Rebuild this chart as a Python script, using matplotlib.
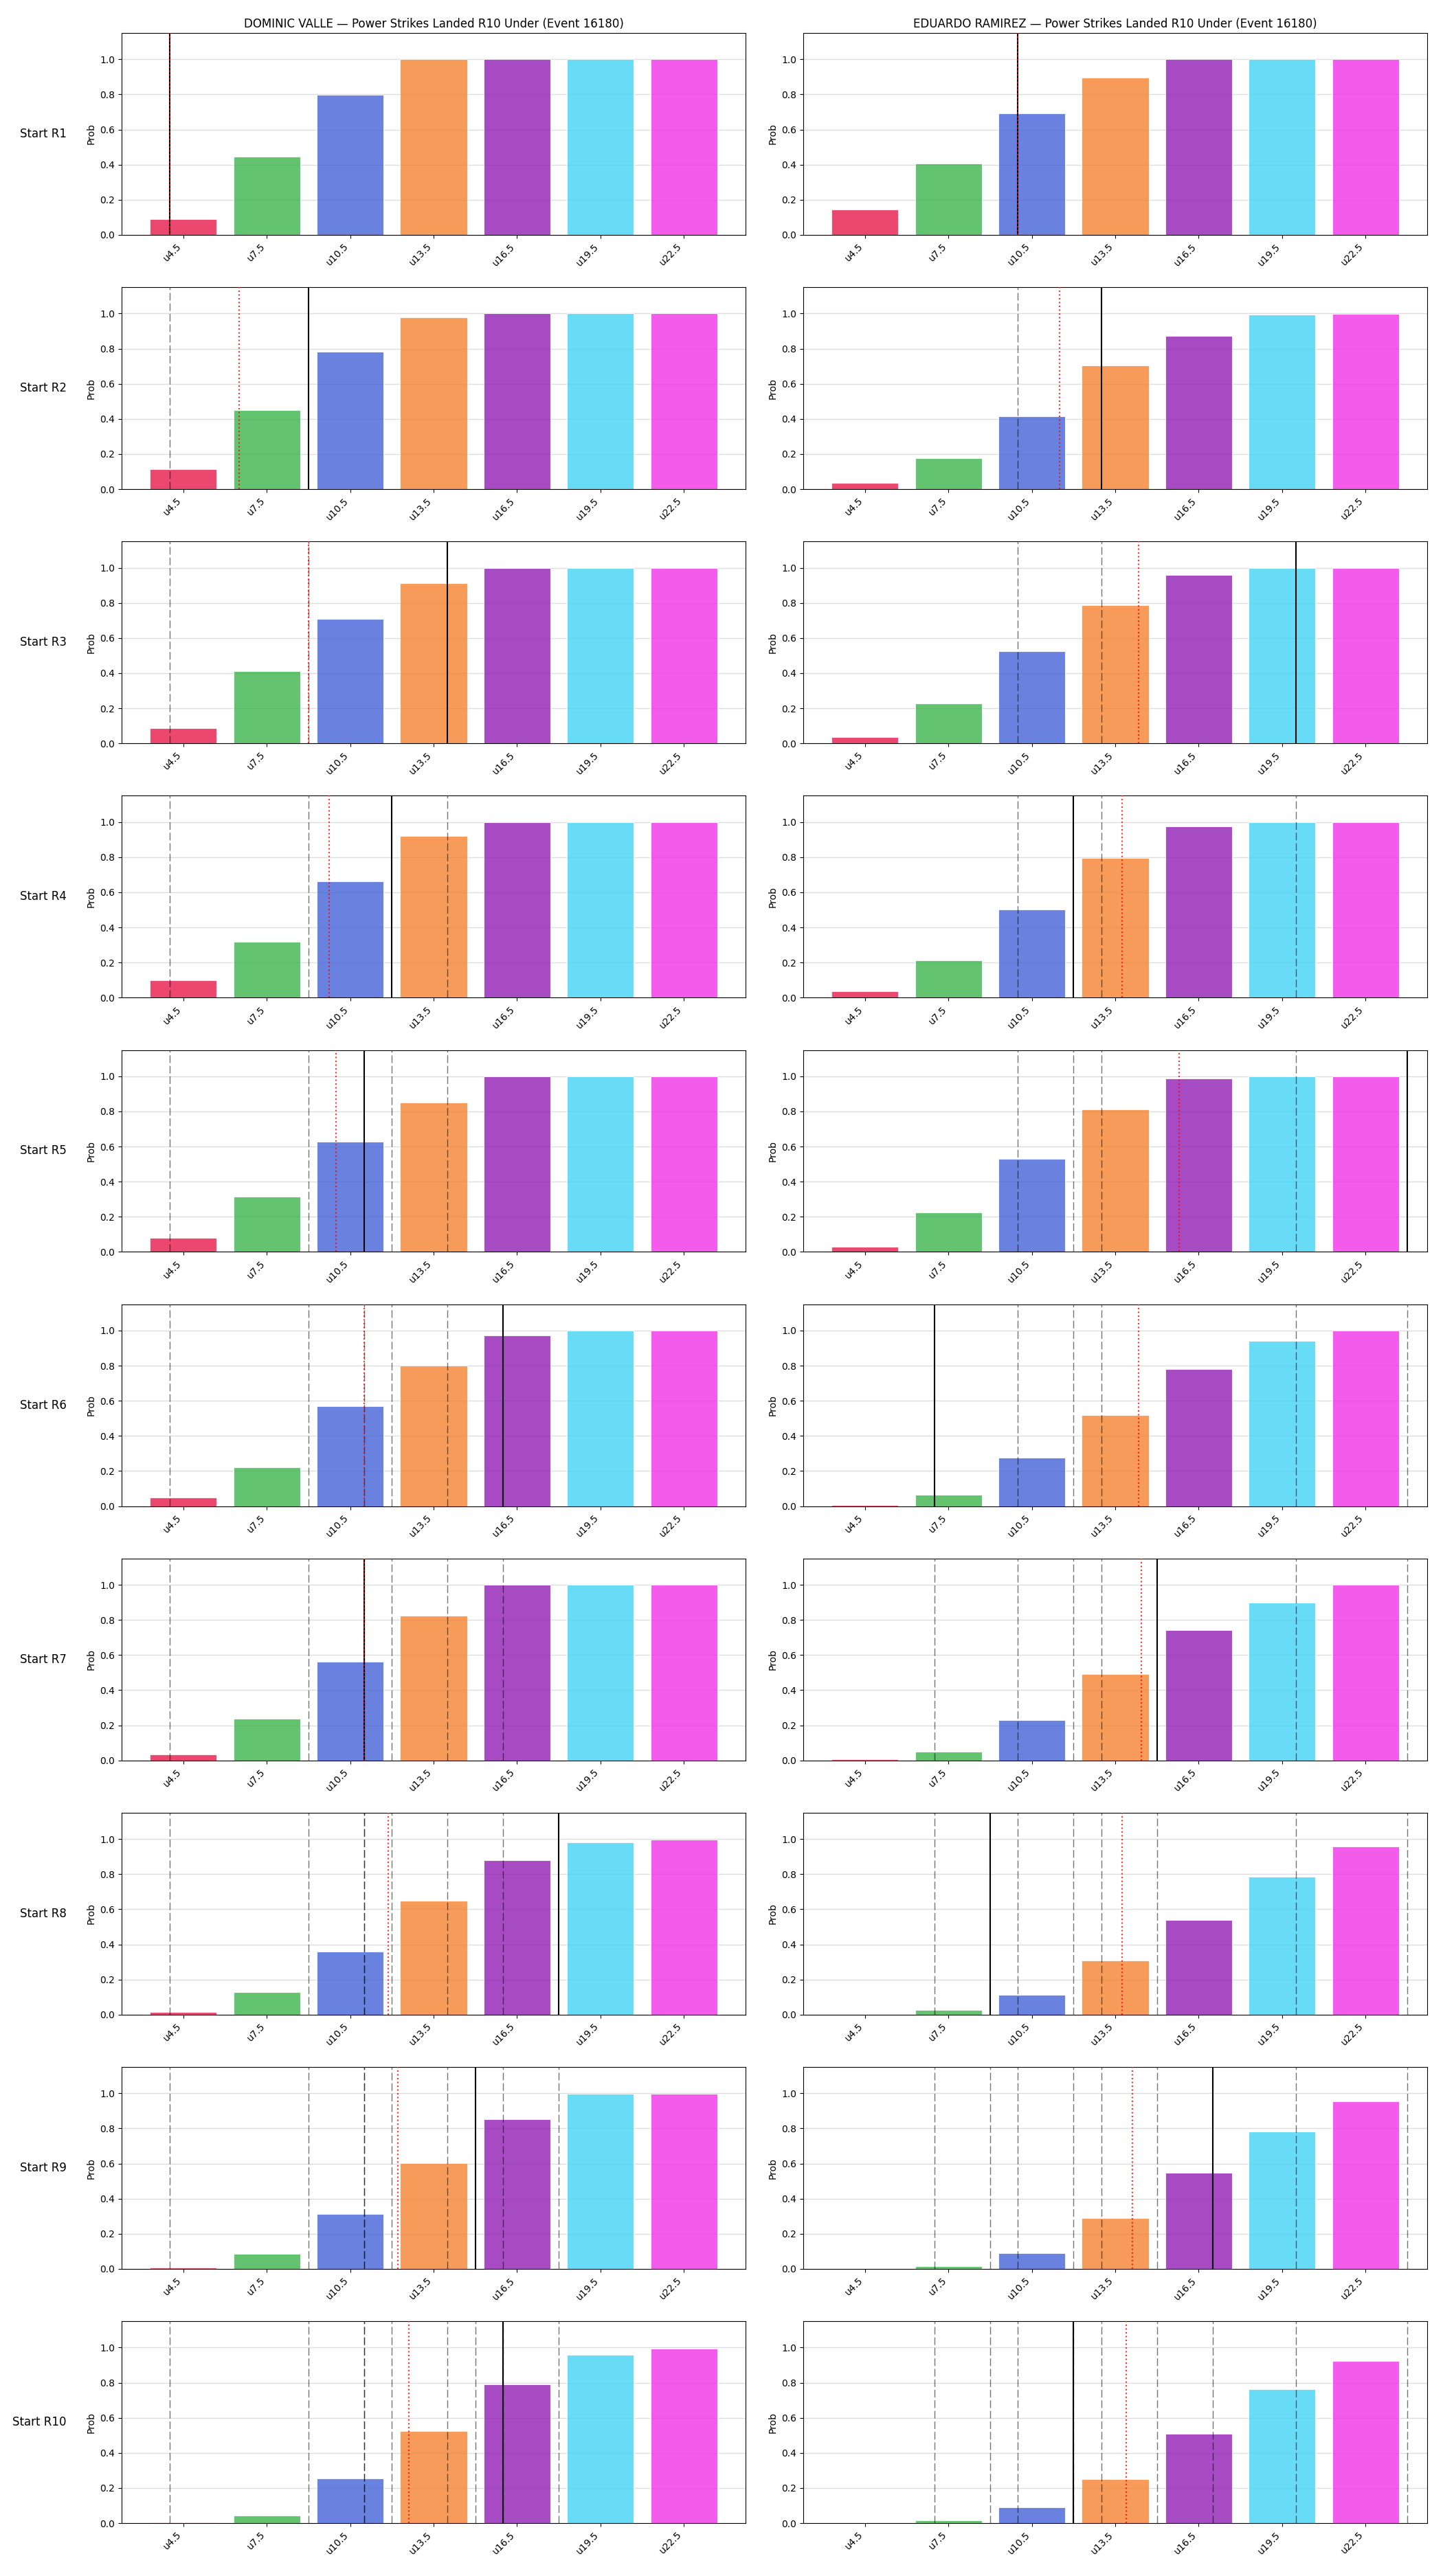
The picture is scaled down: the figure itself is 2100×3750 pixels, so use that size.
import matplotlib
matplotlib.use("Agg")
import matplotlib.pyplot as plt
import numpy as np

fighters = ["DOMINIC VALLE", "EDUARDO RAMIREZ"]
event_id = 16180
thresholds = [4.5, 7.5, 10.5, 13.5, 16.5, 19.5, 22.5]
tick_labels = ["u4.5", "u7.5", "u10.5", "u13.5", "u16.5", "u19.5", "u22.5"]
row_labels = [f"Start R{i}" for i in range(1, 11)]
bar_colors = ["#e6194b", "#3cb44b", "#4363d8", "#f58231", "#911eb4", "#42d4f4", "#f032e6"]

# actual landed per round (solid black line), per fighter
dominic_actual = [4, 9, 14, 12, 11, 16, 11, 18, 15, 16]
eduardo_actual = [10, 13, 20, 12, 24, 7, 15, 9, 17, 12]

# P(under) per threshold at start of each round
dominic_probs = [
    [0.091, 0.446, 0.797, 1.0, 1.0, 1.0, 1.0],
    [0.113, 0.450, 0.781, 0.978, 1.0, 1.0, 1.0],
    [0.088, 0.411, 0.710, 0.911, 1.0, 1.0, 1.0],
    [0.100, 0.320, 0.663, 0.919, 1.0, 1.0, 1.0],
    [0.081, 0.314, 0.629, 0.849, 1.0, 1.0, 1.0],
    [0.049, 0.222, 0.568, 0.799, 0.974, 1.0, 1.0],
    [0.033, 0.238, 0.564, 0.824, 1.0, 1.0, 1.0],
    [0.017, 0.127, 0.360, 0.647, 0.879, 0.982, 0.997],
    [0.006, 0.085, 0.314, 0.604, 0.852, 0.998, 0.998],
    [0.004, 0.045, 0.254, 0.525, 0.792, 0.958, 0.996],
]
eduardo_probs = [
    [0.143, 0.407, 0.694, 0.895, 1.0, 1.0, 1.0],
    [0.034, 0.176, 0.415, 0.706, 0.873, 0.993, 0.997],
    [0.038, 0.227, 0.526, 0.789, 0.959, 1.0, 1.0],
    [0.038, 0.214, 0.503, 0.797, 0.974, 1.0, 1.0],
    [0.028, 0.224, 0.530, 0.810, 0.988, 1.0, 1.0],
    [0.005, 0.064, 0.276, 0.517, 0.781, 0.942, 1.0],
    [0.005, 0.049, 0.230, 0.493, 0.741, 0.899, 1.0],
    [0.001, 0.025, 0.112, 0.308, 0.541, 0.785, 0.958],
    [0.000, 0.015, 0.089, 0.290, 0.549, 0.782, 0.955],
    [0.000, 0.017, 0.089, 0.250, 0.509, 0.765, 0.924],
]

actuals = [dominic_actual, eduardo_actual]
probs = [dominic_probs, eduardo_probs]

fig, axes = plt.subplots(10, 2, figsize=(21, 37.5), dpi=100)
fig.subplots_adjust(left=0.0843, right=0.989, top=0.9872, bottom=0.0205,
                    wspace=0.0926, hspace=0.259)

for c in range(2):
    for r in range(10):
        ax = axes[r, c]
        ax.bar(thresholds, probs[c][r], width=2.4, color=bar_colors, alpha=0.8,
               edgecolor="white", linewidth=0.8, zorder=2)
        ax.set_ylim(0, 1.15)
        ax.grid(axis="y", color="#dddddd", linewidth=1.0, zorder=0)
        ax.set_axisbelow(True)
        ax.set_xticks(thresholds)
        ax.set_xticklabels(tick_labels, rotation=45, ha="right")
        ax.set_ylabel("Prob")
        # previous rounds' actual values
        for prev in actuals[c][:r]:
            ax.axvline(prev, color="black", alpha=0.55, linestyle=(0, (8, 3)),
                       linewidth=1.0, zorder=3)
        cur = actuals[c][r]
        mean_so_far = float(np.mean(actuals[c][:r + 1]))
        ax.axvline(cur, color="black", linewidth=1.5, zorder=4)
        ax.axvline(mean_so_far, color="red", linestyle=":", linewidth=1.5,
                   alpha=0.8, zorder=5)
        if r == 0:
            ax.set_title(f"{fighters[c]} — Power Strikes Landed R10 Under (Event {event_id})",
                         fontsize=12)
        if c == 0:
            ax.annotate(row_labels[r], xy=(0, 0.5),
                        xytext=(-ax.yaxis.labelpad - 17, 0),
                        xycoords=ax.yaxis.label, textcoords="offset points",
                        fontsize=12, ha="right", va="center")

fig.savefig("out.png", dpi=100)
